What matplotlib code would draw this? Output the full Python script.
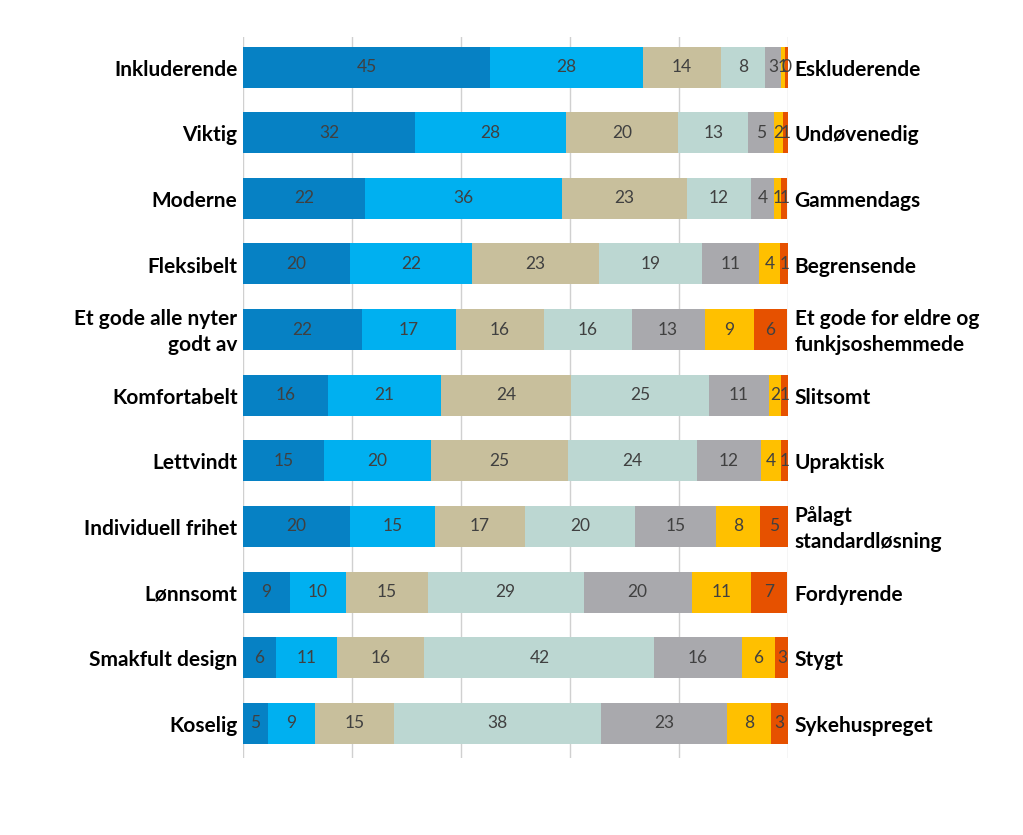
import matplotlib

matplotlib.use("Agg")
import matplotlib.pyplot as plt
import numpy as np

plt.rcParams["font.family"] = ["Lato", "DejaVu Sans"]

# Left / right pole of each semantic-differential item, top to bottom.
left_labels = [
    "Inkluderende", "Viktig", "Moderne", "Fleksibelt",
    "Et gode alle nyter\ngodt av", "Komfortabelt", "Lettvindt",
    "Individuell frihet", "Lønnsomt", "Smakfult design", "Koselig",
]
right_labels = [
    "Eskluderende", "Undøvenedig", "Gammendags", "Begrensende",
    "Et gode for eldre og\nfunkjsoshemmede", "Slitsomt", "Upraktisk",
    "Pålagt\nstandardløsning", "Fordyrende", "Stygt", "Sykehuspreget",
]

# Segment widths (percent) for scale points 1..7.
s1 = [45.3, 31.6, 22.4, 19.6, 21.8, 15.6, 14.9, 19.6, 8.6, 6.1, 4.6]
s2 = [28.1, 27.7, 36.1, 22.4, 17.2, 20.7, 19.6, 15.6, 10.3, 11.2, 8.6]
s3 = [14.3, 20.6, 22.9, 23.3, 16.3, 23.9, 25.1, 16.5, 15.0, 16.0, 14.5]
s4 = [8.1, 12.8, 11.9, 18.9, 16.0, 25.3, 23.7, 20.2, 28.6, 42.2, 38.0]
s5 = [2.9, 4.8, 4.2, 10.5, 13.4, 11.0, 11.7, 14.9, 19.8, 16.0, 23.1]
s6 = [0.8, 1.5, 1.3, 3.9, 9.0, 2.2, 3.7, 8.1, 11.0, 6.1, 8.1]
s7 = [0.5, 1.1, 1.1, 1.5, 6.2, 1.3, 1.3, 5.1, 6.6, 2.6, 3.1]

# Printed (rounded) labels on each segment.
t1 = [45, 32, 22, 20, 22, 16, 15, 20, 9, 6, 5]
t2 = [28, 28, 36, 22, 17, 21, 20, 15, 10, 11, 9]
t3 = [14, 20, 23, 23, 16, 24, 25, 17, 15, 16, 15]
t4 = [8, 13, 12, 19, 16, 25, 24, 20, 29, 42, 38]
t5 = [3, 5, 4, 11, 13, 11, 12, 15, 20, 16, 23]
t6 = [1, 2, 1, 4, 9, 2, 4, 8, 11, 6, 8]
t7 = [0, 1, 1, 1, 6, 1, 1, 5, 7, 3, 3]

COLORS = ["#0681c4", "#00b0f0", "#c8bf9c", "#bcd7d2",
          "#a9a9ad", "#ffc000", "#e65100"]
TEXT = "#404040"

series = [s1, s2, s3, s4, s5, s6, s7]
texts = [t1, t2, t3, t4, t5, t6, t7]

fig = plt.figure(figsize=(10.23, 8.35), dpi=100)
ax = fig.add_axes([0.2375, 0.0922, 0.5328, 0.8635])

y = np.arange(len(left_labels))
left = np.zeros(len(y))
for vals, labs, col in zip(series, texts, COLORS):
    vals = np.array(vals)
    ax.barh(y, vals, left=left, height=0.625, color=col, zorder=3)
    for yi, l, v, t in zip(y, left, vals, labs):
        ax.text(l + v / 2, yi, str(t), ha="center", va="center",
                fontsize=12.5, color=TEXT, zorder=4)
    left += vals

ax.set_xlim(0, 100)
ax.set_ylim(10.53, -0.46)
ax.set_xticks(np.arange(0, 101, 20))
ax.set_yticks([])
ax.tick_params(axis="x", length=0, labelbottom=False)
ax.xaxis.grid(True, color="#d0d0d0", linewidth=1.0, zorder=0)
for s in ax.spines.values():
    s.set_visible(False)

for yi, lab in zip(y, left_labels):
    ax.text(-1.0, yi + 0.04, lab, ha="right", va="center", fontsize=15,
            fontweight="bold", color="black", linespacing=1.4)
for yi, lab in zip(y, right_labels):
    ax.text(101.2, yi + 0.04, lab, ha="left", va="center", fontsize=15,
            fontweight="bold", color="black", linespacing=1.4)

fig.savefig("out.png", dpi=100, facecolor="white")
